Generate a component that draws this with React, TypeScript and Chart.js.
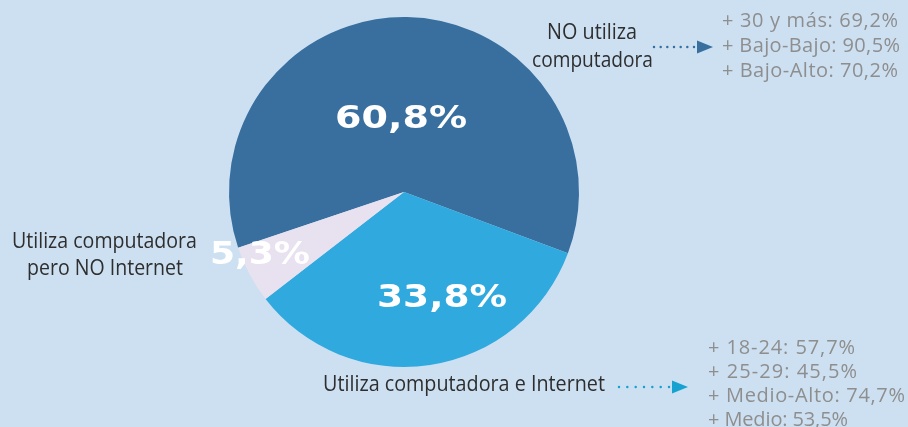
import React, { useEffect, useRef } from "react";
import { Chart, registerables } from "chart.js";

Chart.register(...registerables);

const categories = [
  "NO utiliza computadora",
  "Utiliza computadora e Internet",
  "Utiliza computadora pero NO Internet",
];
const values = [60.8, 33.8, 5.3];
const valueLabels = ["60,8%", "33,8%", "5,3%"];
const colors = ["#386f9f", "#30a9df", "#e8e1ef"];
const topDetails = ["+ 30 y más: 69,2%", "+ Bajo-Bajo: 90,5%", "+ Bajo-Alto: 70,2%"];
const bottomDetails = ["+ 18-24: 57,7%", "+ 25-29: 45,5%", "+ Medio-Alto: 74,7%", "+ Medio: 53,5%"];

const BG = "#cde0f2";

// draw text horizontally scaled to a target width; x is left edge (or center)
function scaledText(ctx: CanvasRenderingContext2D, text: string, x: number, y: number, width: number, center = false) {
  const w = ctx.measureText(text).width;
  const s = width / w;
  ctx.save();
  const left = center ? x - width / 2 : x;
  ctx.translate(left, y);
  ctx.scale(s, 1);
  ctx.textAlign = "left";
  ctx.fillText(text, 0, 0);
  ctx.restore();
}

// draw text with letter spacing to reach a target width
function spacedText(ctx: CanvasRenderingContext2D, text: string, x: number, y: number, width: number, center = false) {
  const c: any = ctx;
  c.letterSpacing = "0px";
  const w = ctx.measureText(text).width;
  const n = text.length - 1;
  const ls = (width - w) / n;
  c.letterSpacing = ls + "px";
  ctx.textAlign = "left";
  const left = center ? x - width / 2 : x;
  ctx.fillText(text, left, y);
  c.letterSpacing = "0px";
}

function arrow(ctx: CanvasRenderingContext2D, x1: number, base: number, tip: number, y: number, color: string) {
  ctx.save();
  ctx.fillStyle = color;
  const n = 7;
  const step = (base - 3 - x1) / (n - 1);
  for (let i = 0; i < n; i++) {
    ctx.beginPath();
    ctx.arc(x1 + i * step, y, 1.25, 0, Math.PI * 2);
    ctx.fill();
  }
  ctx.beginPath();
  ctx.moveTo(base, y - 6.5);
  ctx.lineTo(tip, y);
  ctx.lineTo(base, y + 6.5);
  ctx.closePath();
  ctx.fill();
  ctx.restore();
}

const labelPlugin = {
  id: "labels",
  afterDraw(chart: any) {
    const ctx: CanvasRenderingContext2D = chart.ctx;
    ctx.save();
    ctx.textBaseline = "alphabetic";
    // percentages inside slices
    ctx.fillStyle = "#ffffff";
    ctx.font = "bold 32px 'DejaVu Sans'";
    const pos = [
      [401, 128, 132],
      [442, 307, 130],
      [260, 264, 100],
    ];
    valueLabels.forEach((t, i) => scaledText(ctx, t, pos[i][0], pos[i][1], pos[i][2], true));

    // category labels
    ctx.fillStyle = "#2e2e2e";
    ctx.font = "21px 'Open Sans'";
    scaledText(ctx, "NO utiliza", 592, 39, 90, true);
    scaledText(ctx, "computadora", 592.5, 67, 121, true);
    scaledText(ctx, "Utiliza computadora", 104.5, 248, 185, true);
    scaledText(ctx, "pero NO Internet", 105, 275, 156, true);
    scaledText(ctx, "Utiliza computadora e Internet", 323, 391, 282);

    arrow(ctx, 654, 697, 713, 47, "#386f9f");
    arrow(ctx, 619, 672, 688, 387, "#16a2d0");

    ctx.fillStyle = "#8e8e8e";
    ctx.font = "20px 'Open Sans'";
    const topW = [176, 178, 176];
    topDetails.forEach((t, i) => spacedText(ctx, t, 722, 27 + i * 25, topW[i]));
    const botW = [147, 149, 197, 140];
    bottomDetails.forEach((t, i) => spacedText(ctx, t, 708, 354 + i * 24, botW[i]));
    ctx.restore();
  },
};

export default function App() {
  const ref = useRef<HTMLCanvasElement>(null);
  useEffect(() => {
    document.body.style.margin = "0";
    const chart = new Chart(ref.current!, {
      type: "pie",
      data: {
        labels: categories,
        datasets: [
          {
            data: values,
            backgroundColor: colors,
            borderWidth: 0,
          },
        ],
      },
      options: {
        responsive: false,
        animation: false,
        rotation: 251.4,
        layout: { padding: { left: 229, right: 329, top: 17, bottom: 60 } },
        plugins: { legend: { display: false }, tooltip: { enabled: false } },
      },
      plugins: [labelPlugin],
    });
    return () => chart.destroy();
  }, []);
  return (
    <div style={{ width: 908, height: 427, background: BG }}>
      <canvas ref={ref} width={908} height={427} style={{ display: "block" }} />
    </div>
  );
}
